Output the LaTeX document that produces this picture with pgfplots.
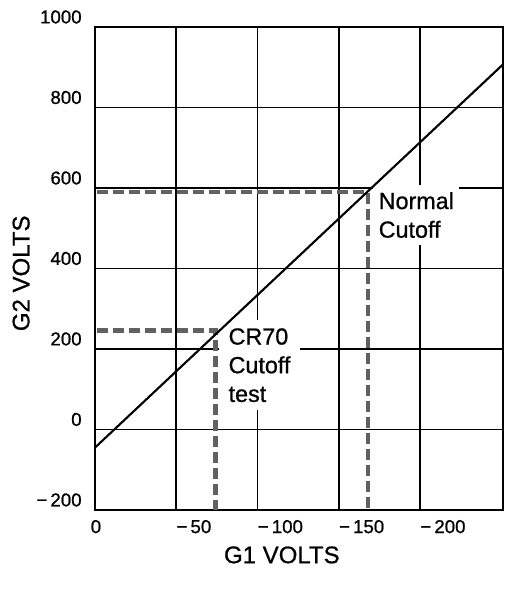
\documentclass[border=0pt]{standalone}
\usepackage{fontspec}
\setmainfont{Liberation Sans}
\newfontfamily\scan[FakeBold=0.8]{Liberation Sans}
\usepackage{pgfplots}
\pgfplotsset{compat=1.18}
\begin{document}
\begin{tikzpicture}
\begin{axis}[
  name=ax,
  scale only axis,
  width=306pt, height=362.25pt,
  x dir=reverse,
  xmin=-251, xmax=0, ymin=-200, ymax=1000,
  xtick={0,-50,-100,-150,-200},
  xticklabels={\makebox[0pt]{0},−\,50,−\,100,−\,150,−\,200},
  ytick={-200,0,200,400,600,800,1000},
  yticklabels={−\,200,0,200,400,600,800,1000},
  xticklabel style={anchor=north west, inner xsep=0pt, yshift=-4pt, font=\scan\fontsize{14}{16}\selectfont},
  yticklabel style={anchor=east, xshift=-6.5pt, yshift=7.5pt, font=\scan\fontsize{14}{16}\selectfont},
  major tick length=0pt,
  grid=major,
  major grid style={black, line width=1.2pt},
  axis line style={black, line width=1.3pt},
  xlabel={G1 VOLTS},
  xlabel style={at={(axis description cs:0.458,-0.093)}, anchor=center, font=\scan\fontsize{18}{20}\selectfont},
  ylabel={G2 VOLTS},
  ylabel style={at={(axis description cs:-0.181,0.49)}, anchor=center, font=\scan\fontsize{18}{20}\selectfont},
  cut/.style={black!62, line width=3.6pt, dash pattern=on 8.5pt off 3.5pt},
]
% labels first, so the lines sit over their white boxes
\node[fill=white, inner xsep=7pt, inner ysep=6pt, align=left, anchor=north west,
  font=\scan\fontsize{17.5}{21.5}\selectfont] at (axis cs:-76.3,272) {CR70\\Cutoff\\test};
\node[fill=white, inner xsep=4pt, inner ysep=5pt, align=left, anchor=north west,
  font=\scan\fontsize{17.5}{21.5}\selectfont] at (axis cs:-171.1,607) {Normal\\Cutoff};

\addplot[cut] coordinates {(-1,590) (-168,590) (-168,-200)};
\addplot[cut] coordinates {(-1,246) (-74,246) (-74,-200)};
\addplot[black, line width=1.6pt] coordinates {(0,-45) (-251,907)};
\end{axis}
\path (ax.south west) ++(-71.25pt,-59.25pt) coordinate (bl);
\path (ax.north east) ++(3.75pt,20.25pt) coordinate (tr);
\path (bl) rectangle (tr);
\end{tikzpicture}
\end{document}
